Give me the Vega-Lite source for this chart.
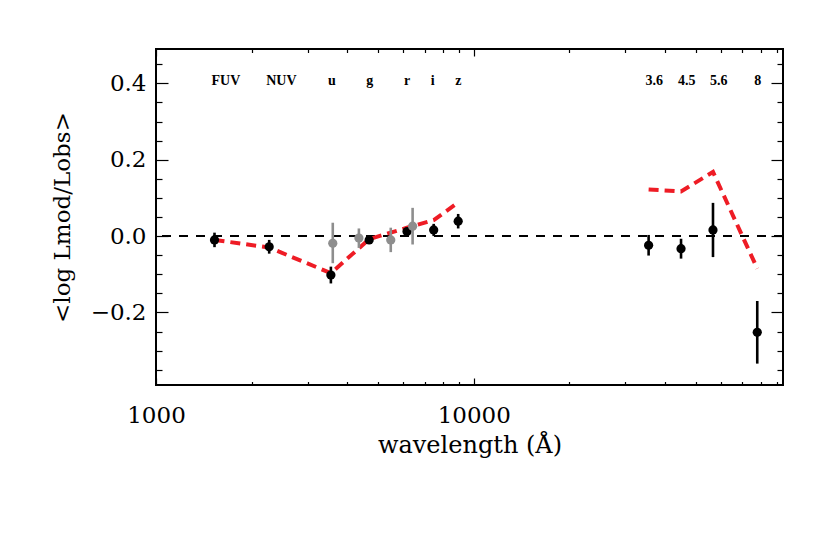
{
  "$schema": "https://vega.github.io/schema/vega-lite/v6.json",
  "autosize": {"type": "none"},
  "padding": {"left": 156, "top": 49, "right": 47, "bottom": 149},
  "width": 627,
  "height": 336,
  "background": "white",
  "config": {
    "view": {"stroke": "black", "strokeWidth": 2},
    "axis": {
      "domain": false,
      "grid": false,
      "tickColor": "black",
      "tickWidth": 1.2,
      "labelColor": "black",
      "titleColor": "black",
      "labelFont": "DejaVu Serif",
      "titleFont": "DejaVu Serif",
      "titleFontWeight": "normal",
      "labelFlush": false,
      "labelOverlap": false
    }
  },
  "datasets": {
    "bands": [
      {"band": "FUV", "wl": 1528, "y": -0.010, "lo": -0.029, "hi": 0.009, "model": -0.010, "seg": "uv-optical"},
      {"band": "NUV", "wl": 2271, "y": -0.028, "lo": -0.046, "hi": -0.010, "model": -0.030, "seg": "uv-optical"},
      {"band": "u", "wl": 3551, "y": -0.102, "lo": -0.124, "hi": -0.080, "model": -0.097, "seg": "uv-optical"},
      {"band": "g", "wl": 4686, "y": -0.010, "lo": -0.018, "hi": -0.002, "model": -0.008, "seg": "uv-optical"},
      {"band": "r", "wl": 6166, "y": 0.012, "lo": 0.003, "hi": 0.021, "model": 0.022, "seg": "uv-optical"},
      {"band": "i", "wl": 7480, "y": 0.016, "lo": 0.000, "hi": 0.032, "model": 0.042, "seg": "uv-optical"},
      {"band": "z", "wl": 8932, "y": 0.039, "lo": 0.020, "hi": 0.058, "model": 0.088, "seg": "uv-optical"},
      {"band": "3.6", "wl": 35500, "y": -0.024, "lo": -0.051, "hi": 0.003, "model": 0.122, "seg": "ir"},
      {"band": "4.5", "wl": 44900, "y": -0.033, "lo": -0.059, "hi": -0.007, "model": 0.117, "seg": "ir"},
      {"band": "5.6", "wl": 56600, "y": 0.016, "lo": -0.055, "hi": 0.087, "model": 0.168, "seg": "ir"},
      {"band": "8", "wl": 78000, "y": -0.252, "lo": -0.334, "hi": -0.170, "model": -0.085, "seg": "ir"}
    ],
    "gray": [
      {"band": "U", "wl": 3600, "y": -0.019, "lo": -0.071, "hi": 0.035},
      {"band": "B", "wl": 4350, "y": -0.005, "lo": -0.031, "hi": 0.020},
      {"band": "V", "wl": 5480, "y": -0.010, "lo": -0.042, "hi": 0.022},
      {"band": "R", "wl": 6420, "y": 0.026, "lo": -0.022, "hi": 0.074}
    ]
  },
  "resolve": {"axis": {"x": "independent", "y": "independent"}},
  "layer": [
    {
      "data": {"name": "bands"},
      "mark": {"type": "rule", "color": "black", "strokeWidth": 1.3, "strokeDash": [9, 8]},
      "encoding": {
        "y": {"datum": 0, "type": "quantitative", "scale": {"domain": [-0.39, 0.49], "nice": false, "zero": false}, "axis": null}
      }
    },
    {
      "data": {"name": "bands"},
      "mark": {"type": "line", "color": "#ee1c25", "strokeWidth": 4, "strokeDash": [10, 6]},
      "encoding": {
        "x": {"field": "wl", "type": "quantitative", "scale": {"type": "log", "domain": [1000, 94000], "nice": false},
              "axis": {"orient": "top", "values": [1000, 10000], "labels": false, "tickSize": 7, "offset": -7, "title": null}},
        "y": {"field": "model", "type": "quantitative", "scale": {"domain": [-0.39, 0.49], "nice": false, "zero": false},
              "axis": {"orient": "right", "values": [-0.2, 0, 0.2, 0.4], "labels": false, "tickSize": 12, "offset": -12, "title": null}},
        "detail": {"field": "seg", "type": "nominal"}
      }
    },
    {
      "data": {"name": "bands"},
      "mark": {"type": "rule", "color": "black", "strokeWidth": 2.6},
      "encoding": {
        "x": {"field": "wl", "type": "quantitative", "scale": {"type": "log", "domain": [1000, 94000], "nice": false},
              "axis": {"orient": "bottom", "values": [1000, 10000], "format": "d", "tickSize": 7, "offset": -7,
                       "labelPadding": 19, "labelFontSize": 23, "title": "wavelength (Å)", "titleFontSize": 24, "titlePadding": 6}},
        "y": {"field": "lo", "type": "quantitative", "scale": {"domain": [-0.39, 0.49], "nice": false, "zero": false},
              "axis": {"orient": "left", "values": [-0.2, 0, 0.2, 0.4], "format": ".1f", "tickSize": 12, "offset": -12,
                       "labelPadding": 10, "labelFontSize": 23, "title": "<log Lmod/Lobs>", "titleFontSize": 23, "titlePadding": 16}},
        "y2": {"field": "hi"}
      }
    },
    {
      "data": {"name": "bands"},
      "mark": {"type": "circle", "color": "black", "opacity": 1, "size": 85},
      "encoding": {
        "x": {"field": "wl", "type": "quantitative", "scale": {"type": "log", "domain": [1000, 94000], "nice": false},
              "axis": {"orient": "bottom", "values": [2000, 3000, 4000, 5000, 6000, 7000, 8000, 9000, 20000, 30000, 40000, 50000, 60000, 70000, 80000, 90000],
                       "labels": false, "tickSize": 3.5, "offset": -3.5, "title": null}},
        "y": {"field": "y", "type": "quantitative", "scale": {"domain": [-0.39, 0.49], "nice": false, "zero": false},
              "axis": {"orient": "left", "values": [-0.35, -0.3, -0.25, -0.15, -0.1, -0.05, 0.05, 0.1, 0.15, 0.25, 0.3, 0.35, 0.45],
                       "labels": false, "tickSize": 6, "offset": -6, "title": null}}
      }
    },
    {
      "data": {"name": "gray"},
      "mark": {"type": "rule", "color": "#8e8e8e", "strokeWidth": 2.6},
      "encoding": {
        "x": {"field": "wl", "type": "quantitative", "scale": {"type": "log", "domain": [1000, 94000], "nice": false},
              "axis": {"orient": "top", "values": [2000, 3000, 4000, 5000, 6000, 7000, 8000, 9000, 20000, 30000, 40000, 50000, 60000, 70000, 80000, 90000],
                       "labels": false, "tickSize": 3.5, "offset": -3.5, "title": null}},
        "y": {"field": "lo", "type": "quantitative", "scale": {"domain": [-0.39, 0.49], "nice": false, "zero": false},
              "axis": {"orient": "right", "values": [-0.35, -0.3, -0.25, -0.15, -0.1, -0.05, 0.05, 0.1, 0.15, 0.25, 0.3, 0.35, 0.45],
                       "labels": false, "tickSize": 6, "offset": -6, "title": null}},
        "y2": {"field": "hi"}
      }
    },
    {
      "data": {"name": "gray"},
      "mark": {"type": "circle", "color": "#8e8e8e", "opacity": 1, "size": 85},
      "encoding": {
        "x": {"field": "wl", "type": "quantitative", "scale": {"type": "log", "domain": [1000, 94000], "nice": false}, "axis": null},
        "y": {"field": "y", "type": "quantitative", "scale": {"domain": [-0.39, 0.49], "nice": false, "zero": false}, "axis": null}
      }
    },
    {
      "data": {"name": "bands"},
      "mark": {"type": "text", "align": "left", "baseline": "alphabetic", "dx": -3, "font": "Liberation Serif", "fontWeight": "bold", "fontSize": 14, "color": "black"},
      "encoding": {
        "x": {"field": "wl", "type": "quantitative", "scale": {"type": "log", "domain": [1000, 94000], "nice": false}, "axis": null},
        "y": {"datum": 0.396, "type": "quantitative", "scale": {"domain": [-0.39, 0.49], "nice": false, "zero": false}, "axis": null},
        "text": {"field": "band", "type": "nominal"}
      }
    }
  ]
}
